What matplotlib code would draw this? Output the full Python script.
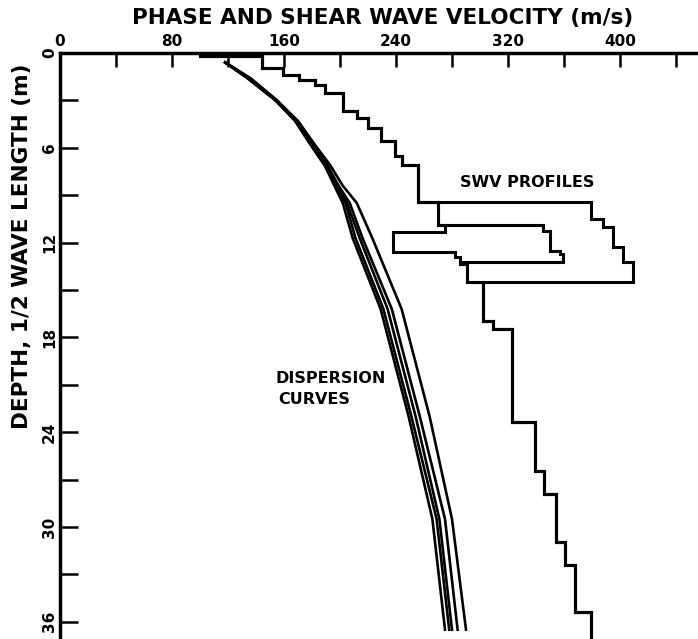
import numpy as np
import matplotlib.pyplot as plt

# Shear wave velocity (SWV) profiles: layer velocities (m/s) and layer bottom depths (m)
# shared upper part
top_vel = [100, 144, 159, 171, 182, 189, 202, 212, 220, 229, 239, 244, 256]
top_bot = [0.2, 0.95, 1.4, 1.71, 2.03, 2.54, 3.68, 4.1, 4.76, 5.6, 6.5, 7.1, 9.4]

# three branches between ~9 and ~15 m
a_vel = [379, 388, 395, 402, 409]
a_bot = [10.5, 11.0, 12.25, 13.2, 14.5]
b_vel = [270, 345, 350, 357, 359, 286, 291]
b_bot = [10.9, 11.24, 12.5, 12.7, 13.2, 13.35, 14.5]
c_vel = [270, 275, 238, 282, 286, 291]
c_bot = [10.9, 11.3, 12.6, 12.9, 13.35, 14.5]

# shared lower part
low_vel = [302, 309, 323, 339, 346, 354, 361, 368, 379]
low_bot = [16.95, 17.46, 23.37, 26.48, 27.94, 30.92, 32.38, 35.37, 38.0]

# Dispersion curves: phase velocity (m/s) vs 1/2 wave length (m)
disp_depth = [0.6, 1.6, 3.0, 4.3, 5.8, 7.1, 8.4, 9.5, 11.7, 16.2, 23.0, 29.5, 36.5]
disp_curves = [
    [118, 134, 154, 168, 179, 189, 196, 202, 209, 229, 249, 266, 275],
    [118, 134, 154, 168, 179, 189, 197, 204, 211, 231, 251, 269, 278],
    [118, 135, 154, 169, 180, 190, 198, 205, 214, 234, 254, 271, 280],
    [118, 136, 155, 169, 181, 191, 199, 207, 216, 237, 257, 275, 284],
    [118, 136, 155, 170, 182, 193, 202, 212, 223, 244, 264, 280, 290],
]


def step_path(vels, bots, d0=0.0):
    # turn layers into a vertical step line
    xs, ys = [], []
    top = d0
    for v, b in zip(vels, bots):
        xs += [v, v]
        ys += [top, b]
        top = b
    return xs, ys


fig = plt.figure(figsize=(6.98, 6.39), dpi=100)
ax = fig.add_axes([60 / 698, 0.0, 638 / 698, 1 - 53 / 639])

# SWV PROFILES
for vel, bot in [(a_vel, a_bot), (b_vel, b_bot), (c_vel, c_bot)]:
    xs, ys = step_path(top_vel + vel + low_vel, top_bot + bot + low_bot)
    ax.plot(xs, ys, color='black', lw=2.2, solid_joinstyle='miter')

# DISPERSION CURVES
for curve in disp_curves:
    ax.plot(curve, disp_depth, color='black', lw=1.9)

ax.set_xlim(0, 638 / 1.4)
ax.set_ylim((639 - 53) / 15.8, 0)

# axes on top and left only
for side in ['right', 'bottom']:
    ax.spines[side].set_visible(False)
for side in ['top', 'left']:
    ax.spines[side].set_linewidth(2.5)

ax.xaxis.tick_top()
ax.set_xticks(np.arange(0, 401, 80))
ax.set_xticks(np.arange(40, 460, 40), minor=True)
ax.set_yticks(np.arange(0, 37, 6))
ax.set_yticks(np.arange(3, 37, 6), minor=True)
ax.tick_params(axis='x', which='both', direction='in', length=10, width=1.8, pad=3)
ax.tick_params(axis='y', which='both', direction='in', length=13, width=1.8, pad=2)
for lab in ax.get_xticklabels():
    lab.set_fontweight('bold')
    lab.set_fontsize(11)
for lab in ax.get_yticklabels():
    lab.set_fontweight('bold')
    lab.set_fontsize(11)
    lab.set_rotation(90)
    lab.set_verticalalignment('center')

# ADDING LABELS
fig.text(383 / 698, 1 - 18 / 639, 'PHASE AND SHEAR WAVE VELOCITY (m/s)',
         ha='center', va='center', fontsize=15.5, fontweight='bold')
fig.text(22 / 698, 1 - 246 / 639, 'DEPTH, 1/2 WAVE LENGTH (m)',
         ha='center', va='center', rotation=90, fontsize=15.5, fontweight='bold')
ax.text(334, 8.2, 'SWV PROFILES', ha='center', va='center', fontsize=11.5, fontweight='bold')
ax.text(154, 20.6, 'DISPERSION', ha='left', va='center', fontsize=11.5, fontweight='bold')
ax.text(156, 21.9, 'CURVES', ha='left', va='center', fontsize=11.5, fontweight='bold')

fig.savefig('out.png', dpi=100)
